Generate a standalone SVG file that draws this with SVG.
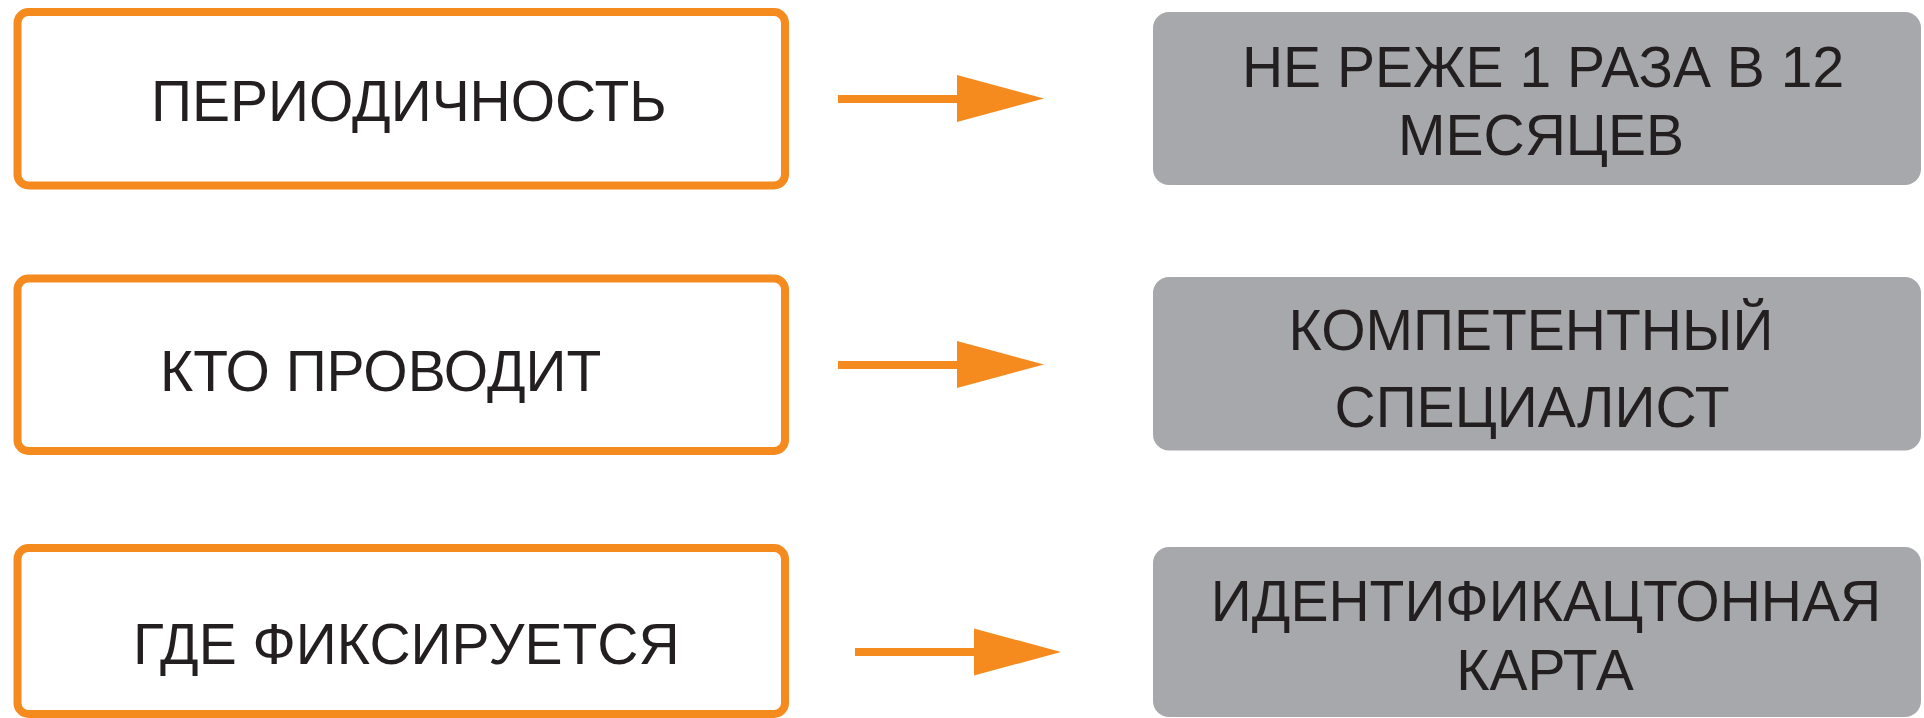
<svg xmlns="http://www.w3.org/2000/svg" width="1924" height="718" viewBox="0 0 1924 718">
  <style>
    .q { fill: #ffffff; stroke: #F58A1F; stroke-width: 8; }
    .a { fill: #A7A8AB; }
    .t { font-family: "Liberation Sans", Arial, sans-serif; font-size: 57px; fill: #231F20; }
    .m { text-anchor: middle; }
    .ln { stroke: #F58A1F; stroke-width: 8; fill: none; }
    .hd { fill: #F58A1F; }
  </style>
  <rect width="1924" height="718" fill="#ffffff"/>

  <g id="q1">
    <rect class="q" x="17.5" y="12" width="767.5" height="173.5" rx="11"/>
    <text class="t" x="151" y="121">ПЕРИОДИЧНОСТЬ</text>
  </g>
  <g id="q2">
    <rect class="q" x="17.5" y="278.5" width="767.5" height="172.5" rx="11"/>
    <text class="t" x="160" y="391">КТО ПРОВОДИТ</text>
  </g>
  <g id="q3">
    <rect class="q" x="17.5" y="548" width="767.5" height="166" rx="11"/>
    <text class="t" x="133" y="664">ГДЕ ФИКСИРУЕТСЯ</text>
  </g>

  <g id="a1">
    <rect class="a" x="1153" y="12" width="768" height="173" rx="16"/>
    <text class="t m" x="1543" y="87">НЕ РЕЖЕ 1 РАЗА В 12</text>
    <text class="t m" x="1541" y="155">МЕСЯЦЕВ</text>
  </g>
  <g id="a2">
    <rect class="a" x="1153" y="277" width="768" height="173.5" rx="16"/>
    <text class="t m" x="1531" y="350">КОМПЕТЕНТНЫЙ</text>
    <text class="t m" x="1532" y="427">СПЕЦИАЛИСТ</text>
  </g>
  <g id="a3">
    <rect class="a" x="1153" y="547" width="768" height="170" rx="16"/>
    <text class="t m" x="1546" y="621">ИДЕНТИФИКАЦТОННАЯ</text>
    <text class="t m" x="1545" y="690">КАРТА</text>
  </g>

  <g id="connectors">
    <line class="ln" x1="838" y1="99" x2="958" y2="99"/>
    <polygon class="hd" points="957,75 1044,98.5 957,122"/>
    <line class="ln" x1="838" y1="365" x2="958" y2="365"/>
    <polygon class="hd" points="957,341 1044,364.5 957,388"/>
    <line class="ln" x1="855" y1="652" x2="975" y2="652"/>
    <polygon class="hd" points="974,628.5 1061,652 974,675.5"/>
  </g>
</svg>
